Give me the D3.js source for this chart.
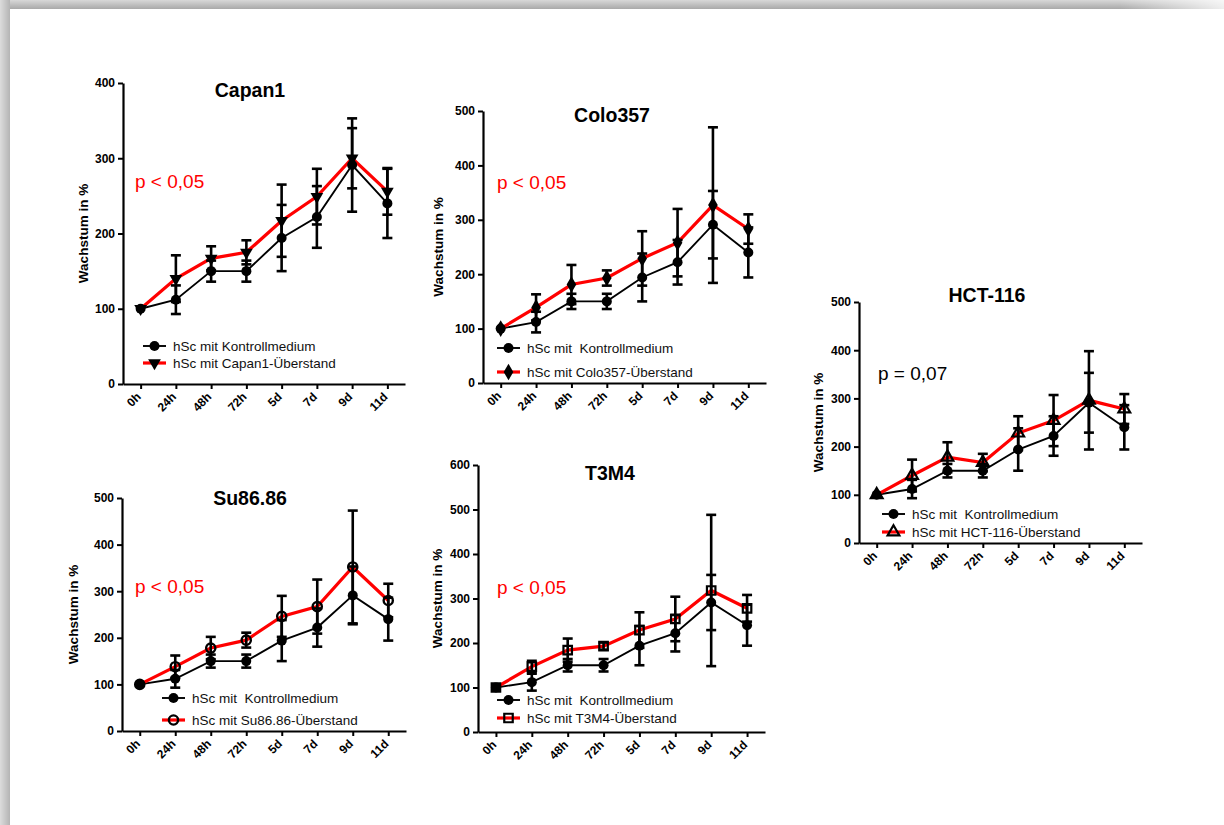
<!DOCTYPE html>
<html>
<head>
<meta charset="utf-8">
<script src="https://cdn.jsdelivr.net/npm/d3@7"></script>
<style>
  html, body { margin: 0; padding: 0; background: #fff; }
  svg { display: block; font-family: "Liberation Sans", Arial, sans-serif; }
</style>
</head>
<body>
<svg id="chart" width="1224" height="825"></svg>
<script>
// ---------- data ----------
const categories = ["0h", "24h", "48h", "72h", "5d", "7d", "9d", "11d"];
const yTickStep = 100;

const controlMean = [100, 112, 150, 150, 194, 222, 291, 240];
const controlErr  = [0, 19, 14, 14, 44, 41, 62, 46];

const panelNames  = ["Capan1", "Colo357", "HCT-116", "Su86.86", "T3M4"];
const panelYMax   = [400, 500, 500, 500, 600];
const panelPText  = ["p < 0,05", "p < 0,05", "p = 0,07", "p < 0,05", "p < 0,05"];
const panelLegendControl = ["hSc mit Kontrollmedium", "hSc mit  Kontrollmedium", "hSc mit  Kontrollmedium", "hSc mit  Kontrollmedium", "hSc mit  Kontrollmedium"];
const panelLegendTreated = ["hSc mit Capan1-Überstand", "hSc mit Colo357-Überstand", "hSc mit HCT-116-Überstand", "hSc mit Su86.86-Überstand", "hSc mit T3M4-Überstand"];

const capan1Mean  = [100, 140, 167, 175, 217, 249, 300, 256];
const capan1Err   = [0, 31, 16, 16, 48, 37, 40, 31];
const colo357Mean = [100, 139, 181, 193, 229, 258, 327, 283];
const colo357Err  = [0, 24, 36, 14, 50, 62, 143, 27];
const hct116Mean  = [100, 140, 178, 167, 228, 254, 296, 278];
const hct116Err   = [0, 33, 31, 18, 35, 53, 102, 31];
const su8686Mean  = [100, 138, 178, 195, 246, 267, 352, 280];
const su8686Err   = [0, 24, 24, 16, 44, 58, 121, 36];
const t3m4Mean    = [100, 147, 184, 193, 229, 254, 318, 278];
const t3m4Err     = [0, 13, 26, 8, 40, 50, 170, 30];

const treatedMeans = [capan1Mean, colo357Mean, hct116Mean, su8686Mean, t3m4Mean];
const treatedErrs  = [capan1Err, colo357Err, hct116Err, su8686Err, t3m4Err];
const treatedMarker = ["triangleDown", "diamond", "triangleOpen", "circleOpen", "squareOpen"];

// ---------- layout (positions only) ----------
const layout = [
  {left:123, right:405, top:83,  bottom:384, titleX:250, titleY:97,  pX:135, pY:188, pColor:"#ff0000", legX:143, legY:346, legGap:17, ylabX:83},
  {left:483, right:766, top:111, bottom:383, titleX:612, titleY:122, pX:497, pY:189, pColor:"#ff0000", legX:497, legY:348, legGap:24, ylabX:438},
  {left:859, right:1142,top:302, bottom:543, titleX:987, titleY:302, pX:878, pY:380, pColor:"#000000", legX:882, legY:514, legGap:18, ylabX:818},
  {left:122, right:406, top:498, bottom:731, titleX:250, titleY:505, pX:135, pY:593, pColor:"#ff0000", legX:162, legY:698, legGap:22, ylabX:73},
  {left:478, right:765, top:465, bottom:732, titleX:610, titleY:480, pX:497, pY:594, pColor:"#ff0000", legX:497, legY:700, legGap:18, ylabX:437}
];

const svg = d3.select("#chart");

// ---------- page frame shadow ----------
const defs = svg.append("defs");
const gTop = defs.append("linearGradient").attr("id","gTop").attr("x1",0).attr("y1",0).attr("x2",0).attr("y2",1);
gTop.append("stop").attr("offset","0%").attr("stop-color","#d8d8d8");
gTop.append("stop").attr("offset","100%").attr("stop-color","#a9a9a9");
const gLeft = defs.append("linearGradient").attr("id","gLeft").attr("x1",0).attr("y1",0).attr("x2",1).attr("y2",0);
gLeft.append("stop").attr("offset","0%").attr("stop-color","#dcdcdc");
gLeft.append("stop").attr("offset","100%").attr("stop-color","#b4b4b4");
const gFade = defs.append("linearGradient").attr("id","gFade").attr("x1",0).attr("y1",0).attr("x2",1).attr("y2",0);
gFade.append("stop").attr("offset","0%").attr("stop-color","#fff").attr("stop-opacity",0);
gFade.append("stop").attr("offset","100%").attr("stop-color","#fff").attr("stop-opacity",0.8);

svg.append("rect").attr("x",0).attr("y",0).attr("width",1224).attr("height",9).attr("fill","url(#gTop)");
svg.append("rect").attr("x",1120).attr("y",0).attr("width",104).attr("height",9).attr("fill","url(#gFade)");
svg.append("rect").attr("x",0).attr("y",0).attr("width",10).attr("height",825).attr("fill","url(#gLeft)");

// ---------- markers ----------
function drawMarker(g, type, x, y) {
  const t = `translate(${x},${y})`;
  if (type === "circle") {
    g.append("circle").attr("cx",x).attr("cy",y).attr("r",5).attr("fill","#000");
  } else if (type === "triangleDown") {
    g.append("path").attr("d", d3.symbol(d3.symbolTriangle, 70)()).attr("transform", t + " rotate(180)").attr("fill","#000");
  } else if (type === "diamond") {
    g.append("path").attr("d", d3.symbol(d3.symbolDiamond, 80)()).attr("transform", t).attr("fill","#000");
  } else if (type === "triangleOpen") {
    g.append("path").attr("d", d3.symbol(d3.symbolTriangle, 60)()).attr("transform", t).attr("fill","none").attr("stroke","#000").attr("stroke-width",2.2);
  } else if (type === "circleOpen") {
    g.append("circle").attr("cx",x).attr("cy",y).attr("r",4.6).attr("fill","none").attr("stroke","#000").attr("stroke-width",2.4);
  } else if (type === "squareOpen") {
    g.append("path").attr("d", d3.symbol(d3.symbolSquare, 72)()).attr("transform", t).attr("fill","none").attr("stroke","#000").attr("stroke-width",2.2);
  }
}

// ---------- panels ----------
panelNames.forEach((name, i) => {
  const L = layout[i];
  const g = svg.append("g");
  const x = d3.scalePoint().domain(categories).range([L.left, L.right]).padding(0.5);
  const y = d3.scaleLinear().domain([0, panelYMax[i]]).range([L.bottom, L.top]);

  // axes
  const yAxis = d3.axisLeft(y).tickValues(d3.range(0, panelYMax[i] + 1, yTickStep)).tickSize(5).tickPadding(3).tickSizeOuter(0);
  const ya = g.append("g").attr("transform", `translate(${L.left},0)`).call(yAxis);
  ya.attr("font-size", null).attr("font-family", null);
  ya.select(".domain").attr("stroke","#000").attr("stroke-width",2.2);
  ya.selectAll(".tick line").attr("stroke","#000").attr("stroke-width",2);
  ya.selectAll(".tick text").attr("font-size","12px").attr("font-weight","bold").attr("fill","#000");

  const xAxis = d3.axisBottom(x).tickSize(5).tickSizeOuter(0).tickPadding(3);
  const xa = g.append("g").attr("transform", `translate(0,${L.bottom})`).call(xAxis);
  xa.attr("font-size", null).attr("font-family", null);
  xa.select(".domain").attr("stroke","#000").attr("stroke-width",2.2);
  xa.selectAll(".tick line").attr("stroke","#000").attr("stroke-width",2);
  xa.selectAll(".tick text")
    .attr("font-size","12px").attr("font-weight","bold").attr("fill","#000")
    .attr("text-anchor","end").attr("dy","0")
    .attr("transform","translate(-5,8) rotate(-45)");

  // y label
  g.append("text")
    .attr("transform", `translate(${L.ylabX},${(L.top + L.bottom) / 2}) rotate(-90)`)
    .attr("text-anchor","middle").attr("dy","0.35em")
    .attr("font-size","13.5px").attr("font-weight","bold").attr("fill","#000")
    .text("Wachstum in %");

  // title
  g.append("text").attr("x", L.titleX).attr("y", L.titleY).attr("text-anchor","middle")
    .attr("font-size","19.5px").attr("font-weight","bold").attr("fill","#000").text(name);

  // p value
  g.append("text").attr("x", L.pX).attr("y", L.pY)
    .attr("font-size","19px").attr("fill", L.pColor).text(panelPText[i]);

  const line = d3.line().x((d, k) => x(categories[k])).y(d => y(d));
  const tMean = treatedMeans[i], tErr = treatedErrs[i];

  // lines
  g.append("path").datum(controlMean).attr("d", line).attr("fill","none").attr("stroke","#000").attr("stroke-width",1.9);
  g.append("path").datum(tMean).attr("d", line).attr("fill","none").attr("stroke","#ff0000").attr("stroke-width",3.2);

  // error bars
  function errBars(mean, err) {
    mean.forEach((m, k) => {
      if (!err[k]) return;
      const cx = x(categories[k]);
      const y1 = y(m + err[k]), y2 = y(m - err[k]);
      g.append("line").attr("x1",cx).attr("x2",cx).attr("y1",y1).attr("y2",y2).attr("stroke","#000").attr("stroke-width",2.6);
      [y1, y2].forEach(yy => g.append("line").attr("x1",cx-5).attr("x2",cx+5).attr("y1",yy).attr("y2",yy).attr("stroke","#000").attr("stroke-width",2.6));
    });
  }
  errBars(controlMean, controlErr);
  errBars(tMean, tErr);

  // markers
  controlMean.forEach((m, k) => drawMarker(g, "circle", x(categories[k]), y(m)));
  tMean.forEach((m, k) => drawMarker(g, treatedMarker[i], x(categories[k]), y(m)));

  // legend
  const lx = L.legX, ly1 = L.legY, ly2 = L.legY + L.legGap;
  g.append("line").attr("x1",lx).attr("x2",lx+23).attr("y1",ly1).attr("y2",ly1).attr("stroke","#000").attr("stroke-width",1.9);
  drawMarker(g, "circle", lx + 11.5, ly1);
  g.append("text").attr("x", lx + 30).attr("y", ly1).attr("dy","0.35em").attr("font-size","13.5px").attr("fill","#111")
    .style("white-space","pre").text(panelLegendControl[i]);
  g.append("line").attr("x1",lx).attr("x2",lx+23).attr("y1",ly2).attr("y2",ly2).attr("stroke","#ff0000").attr("stroke-width",3.2);
  drawMarker(g, treatedMarker[i], lx + 11.5, ly2);
  g.append("text").attr("x", lx + 30).attr("y", ly2).attr("dy","0.35em").attr("font-size","13.5px").attr("fill","#111")
    .text(panelLegendTreated[i]);
});
</script>
</body>
</html>
